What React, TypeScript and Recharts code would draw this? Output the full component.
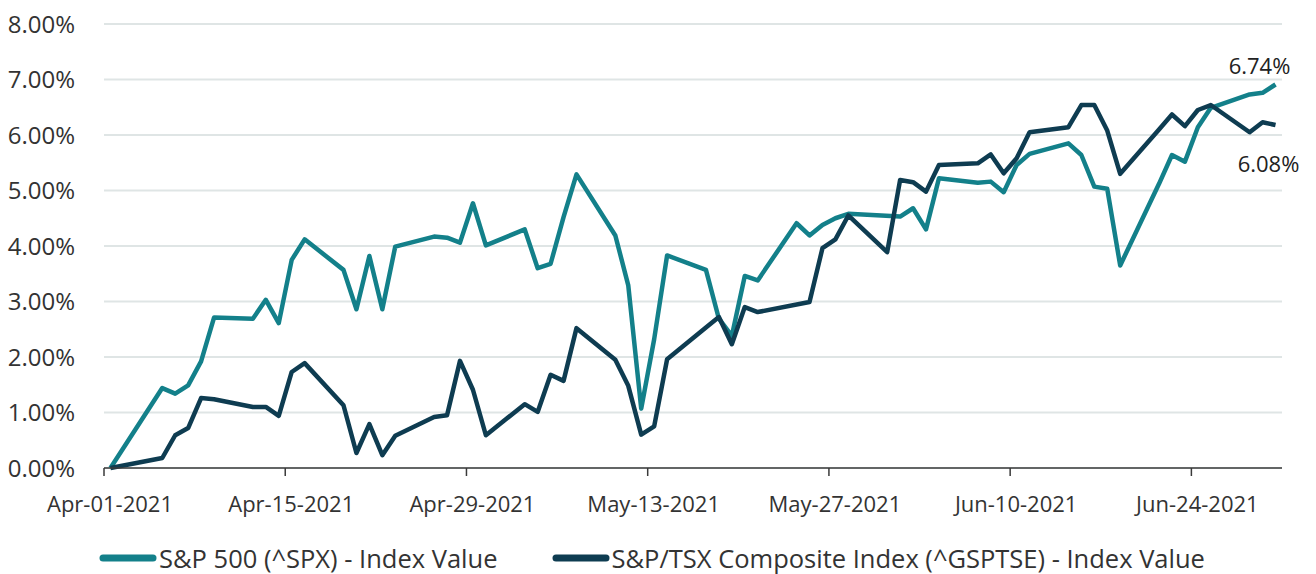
import React from 'react';
import { LineChart, Line, XAxis, YAxis, CartesianGrid, Legend } from 'recharts';

const DATES = [
  '2021-04-01', '2021-04-05', '2021-04-06', '2021-04-07', '2021-04-08', '2021-04-09',
  '2021-04-12', '2021-04-13', '2021-04-14', '2021-04-15', '2021-04-16',
  '2021-04-19', '2021-04-20', '2021-04-21', '2021-04-22', '2021-04-23',
  '2021-04-26', '2021-04-27', '2021-04-28', '2021-04-29', '2021-04-30',
  '2021-05-03', '2021-05-04', '2021-05-05', '2021-05-06', '2021-05-07',
  '2021-05-10', '2021-05-11', '2021-05-12', '2021-05-13', '2021-05-14',
  '2021-05-17', '2021-05-18', '2021-05-19', '2021-05-20', '2021-05-21',
  '2021-05-24', '2021-05-25', '2021-05-26', '2021-05-27', '2021-05-28', '2021-05-31',
  '2021-06-01', '2021-06-02', '2021-06-03', '2021-06-04',
  '2021-06-07', '2021-06-08', '2021-06-09', '2021-06-10', '2021-06-11',
  '2021-06-14', '2021-06-15', '2021-06-16', '2021-06-17', '2021-06-18',
  '2021-06-21', '2021-06-22', '2021-06-23', '2021-06-24', '2021-06-25',
  '2021-06-28', '2021-06-29', '2021-06-30',
];

// % change since Apr-01-2021 (null = market closed that day)
const SPX = [
  0, 1.44, 1.34, 1.49, 1.92, 2.71,
  2.69, 3.03, 2.61, 3.75, 4.12,
  3.57, 2.86, 3.82, 2.86, 3.99,
  4.17, 4.15, 4.06, 4.77, 4.01,
  4.30, 3.60, 3.68, 4.52, 5.29,
  4.19, 3.29, 1.07, 2.32, 3.83,
  3.57, 2.69, 2.38, 3.46, 3.38,
  4.41, 4.19, 4.38, 4.50, 4.58, null,
  4.53, 4.68, 4.30, 5.22,
  5.14, 5.16, 4.97, 5.46, 5.66,
  5.85, 5.64, 5.07, 5.03, 3.65,
  5.12, 5.64, 5.52, 6.14, 6.49,
  6.73, 6.76, 6.91,
];

const TSX = [
  0, 0.18, 0.59, 0.72, 1.26, 1.24,
  1.10, 1.10, 0.94, 1.73, 1.89,
  1.13, 0.27, 0.79, 0.23, 0.58,
  0.92, 0.95, 1.93, 1.41, 0.59,
  1.15, 1.01, 1.68, 1.57, 2.52,
  1.95, 1.48, 0.60, 0.75, 1.96,
  2.53, 2.72, 2.23, 2.90, 2.81,
  null, 2.99, 3.96, 4.12, 4.55, 3.89,
  5.19, 5.15, 4.98, 5.46,
  5.49, 5.65, 5.31, 5.58, 6.05,
  6.14, 6.54, 6.54, 6.08, 5.30,
  6.10, 6.37, 6.16, 6.45, 6.54,
  6.05, 6.23, 6.18,
];

const SERIES_NAMES = ['S&P 500 (^SPX) - Index Value', 'S&P/TSX Composite Index (^GSPTSE) - Index Value'];
const END_LABELS = ['6.74%', '6.08%'];
const X_TICK_DATES = ['2021-04-01', '2021-04-15', '2021-04-29', '2021-05-13', '2021-05-27', '2021-06-10', '2021-06-24'];
const Y_TICKS = [0, 1, 2, 3, 4, 5, 6, 7, 8];

const COLORS = ['#13808a', '#0e3c51'];
const MONTHS = ['Jan', 'Feb', 'Mar', 'Apr', 'May', 'Jun', 'Jul', 'Aug', 'Sep', 'Oct', 'Nov', 'Dec'];
const DAY = 86400000;
const START = Date.UTC(2021, 3, 1);

const toDay = (iso: string) => {
  const [y, m, d] = iso.split('-').map(Number);
  return (Date.UTC(y, m - 1, d) - START) / DAY;
};

const formatDay = (v: number) => {
  const dt = new Date(START + Math.round(v) * DAY);
  return `${MONTHS[dt.getUTCMonth()]}-${String(dt.getUTCDate()).padStart(2, '0')}-${dt.getUTCFullYear()}`;
};

// closing values plotted at midday
const data = DATES.map((d, i) => ({ x: toDay(d) + 0.5, spx: SPX[i], tsx: TSX[i] }));
const lastIndex = data.length - 1;
const xTicks = X_TICK_DATES.map(toDay);

const FONT = '"Open Sans", sans-serif';

const endLabel = (text: string, dx: number, dy: number) => (props: any) => {
  if (props.index !== lastIndex) return <g />;
  return (
    <text
      x={props.x + dx}
      y={props.y + dy}
      textAnchor="middle"
      dominantBaseline="central"
      fontSize={22}
      fontFamily={FONT}
      fill="#222"
    >
      {text}
    </text>
  );
};

const LegendContent = () => (
  <div
    style={{
      display: 'flex',
      justifyContent: 'center',
      alignItems: 'center',
      gap: 54,
      marginTop: 19,
      paddingLeft: 22,
      fontFamily: FONT,
      fontSize: 25.5,
      color: '#333',
      lineHeight: 1.2,
    }}
  >
    {SERIES_NAMES.map((name, i) => (
      <div key={name} style={{ display: 'flex', alignItems: 'center' }}>
        <svg width={58} height={12} style={{ marginRight: 2 }}>
          <line x1={4} y1={6} x2={54} y2={6} stroke={COLORS[i]} strokeWidth={7} strokeLinecap="round" />
        </svg>
        <span>{name}</span>
      </div>
    ))}
  </div>
);

const App = () => {
  return (
    <div style={{ position: 'absolute', left: 0, top: 0, width: 1316, height: 574, background: '#fff' }}>
      <LineChart width={1316} height={574} data={data} margin={{ top: 24, right: 34, left: 0, bottom: 0 }}>
        <CartesianGrid vertical={false} stroke="#dfe5e5" strokeWidth={2} />
        <XAxis
          type="number"
          dataKey="x"
          domain={[0, 91]}
          ticks={xTicks}
          interval={0}
          tickFormatter={formatDay}
          axisLine={{ stroke: '#3a3a3a', strokeWidth: 1.5 }}
          tickLine={{ stroke: '#3a3a3a', strokeWidth: 1.5 }}
          tickSize={8}
          tickMargin={20}
          height={56}
          tick={{ fontSize: 22, fill: '#333', fontFamily: FONT, dx: 6 }}
        />
        <YAxis
          domain={[0, 8]}
          ticks={Y_TICKS}
          interval={0}
          tickFormatter={(v: number) => `${v.toFixed(2)}%`}
          axisLine={false}
          tickLine={false}
          tickSize={0}
          tickMargin={29}
          width={104}
          tick={{ fontSize: 24, fill: '#333', fontFamily: FONT }}
        />
        <Legend verticalAlign="bottom" height={50} content={<LegendContent />} />
        <Line
          type="linear"
          dataKey="spx"
          name={SERIES_NAMES[0]}
          stroke={COLORS[0]}
          strokeWidth={4.5}
          strokeLinejoin="round"
          dot={false}
          activeDot={false}
          connectNulls
          isAnimationActive={false}
          label={endLabel(END_LABELS[0], -16, -19)}
        />
        <Line
          type="linear"
          dataKey="tsx"
          name={SERIES_NAMES[1]}
          stroke={COLORS[1]}
          strokeWidth={4.5}
          strokeLinejoin="round"
          dot={false}
          activeDot={false}
          connectNulls
          isAnimationActive={false}
          label={endLabel(END_LABELS[1], -7, 38)}
        />
      </LineChart>
    </div>
  );
};

export default App;
